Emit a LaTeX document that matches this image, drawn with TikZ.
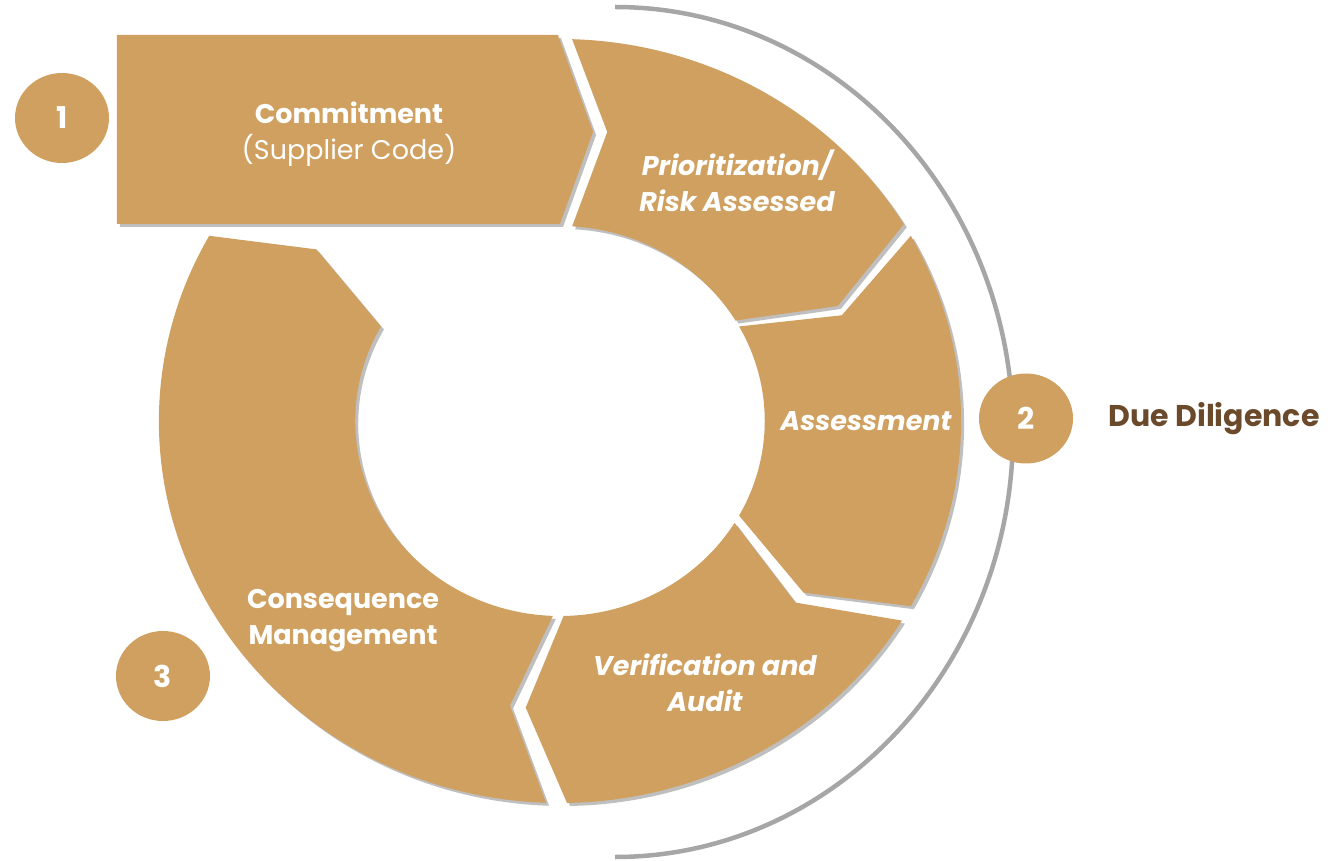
\documentclass[tikz,border=0pt]{standalone}
\usepackage{fontspec}
\setmainfont{Poppins}
\usetikzlibrary{shapes.geometric,shadows}
\definecolor{ringtan}{HTML}{CFA060}
\definecolor{darkbrown}{HTML}{6B4A2B}
\definecolor{arcgrey}{HTML}{A6A6A6}

\begin{document}
\begin{tikzpicture}[x=1pt,y=1pt,
  seg/.style={fill=ringtan,
    drop shadow={shadow xshift=3pt,shadow yshift=-3pt,opacity=.25,fill=black}},
  num/.style={ellipse,fill=ringtan,minimum width=94pt,minimum height=90pt,
    inner sep=0pt,text=white,font=\fontsize{30}{34}\selectfont\bfseries},
  lab/.style={text=white,align=center,font=\fontsize{27}{36}\selectfont\bfseries},
  labit/.style={lab,font=\fontsize{27}{36}\selectfont\bfseries\itshape}
]
\useasboundingbox (0,0) rectangle (1332,860);

% grey half ellipse on the right
\draw[arcgrey,line width=4.5pt] (615,853)
  arc[start angle=90,end angle=-90,x radius=398,y radius=425];

% ring of arrows
\begin{scope}[shift={(560,439)},xscale=1.05]
  % commitment arrow
  \fill[seg] (-422,197) -- (-422,386) -- (-2,386) -- (31.5,289) -- (0,197) -- cycle;
  % prioritization, notched to fit the arrow
  \fill[seg] (88.27:382) arc[start angle=88.27,end angle=31,radius=382]
    -- (23.5:288.5) -- (31:195) arc[start angle=31,end angle=86.6,radius=195]
    -- (45,289) -- cycle;
  % remaining segments
  \foreach \s/\e in {29/-29,-31.5/-89,-92/-209}{
    \fill[seg] (\s:382) arc[start angle=\s,end angle=\e,radius=382]
      -- ({\e-7.5}:288.5) -- (\e:195) arc[start angle=\e,end angle=\s,radius=195]
      -- ({\s-7.5}:288.5) -- cycle;
  }
\end{scope}

% labels
\node[lab] (commit) at (349,726) {Commitment\\{\mdseries (Supplier Code)}};
\node[labit] (prior) at (737,679) {Prioritization/\\Risk Assessed};
\node[labit] (assess) at (866,439) {Assessment};
\node[labit] (verif) at (705,177) {Verification and\\Audit};
\node[lab] (conseq) at (343,239) {Consequence\\Management};

% numbers
\node[num] (n1) at (62,742) {1};
\node[num] (n2) at (1026,441.5) {2};
\node[num] (n3) at (163,184) {3};
\node[anchor=west,text=darkbrown,font=\fontsize{30}{36}\selectfont\bfseries]
  (due) at (1105,441) {Due Diligence};

\end{tikzpicture}
\end{document}
